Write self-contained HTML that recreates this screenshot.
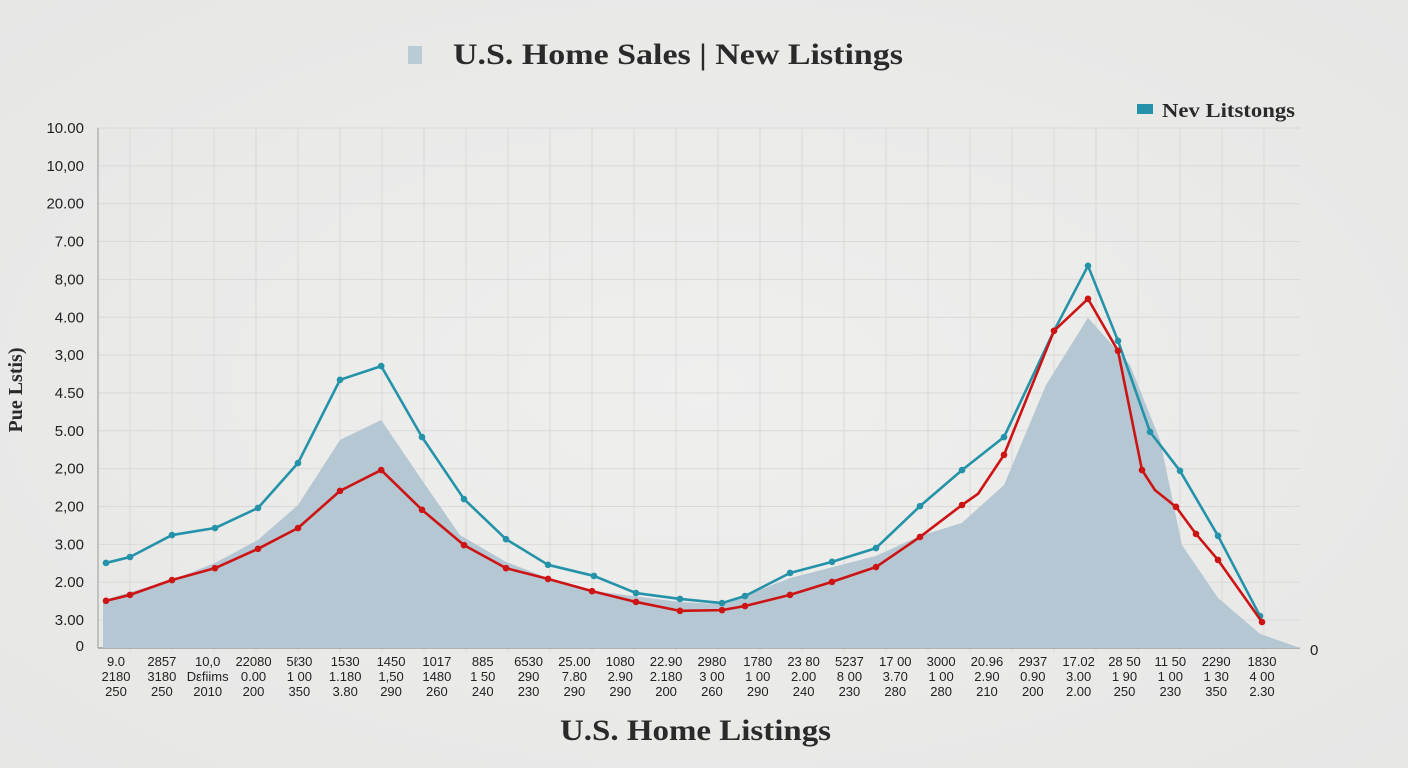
<!DOCTYPE html>
<html><head><meta charset="utf-8"><style>
html,body{margin:0;padding:0;background:#ebebea;}
svg{display:block}
.t{font-family:"Liberation Serif",serif;font-weight:bold;fill:#2a2a2a}
.tick{font-family:"Liberation Sans",sans-serif;font-size:15px;fill:#222}
.xl{font-family:"Liberation Sans",sans-serif;font-size:13px;fill:#222}
</style></head><body>
<svg id="chart" width="1408" height="768">
<defs><radialGradient id="bg" cx="50%" cy="50%" r="70%"><stop offset="0" stop-color="#efefee"/><stop offset="1" stop-color="#e6e6e5"/></radialGradient></defs>
<rect width="1408" height="768" fill="url(#bg)"/>
<rect x="408" y="46" width="14" height="18" fill="#b9ccd6"/>
<text class="t" x="453" y="64" font-size="30" textLength="450" lengthAdjust="spacingAndGlyphs">U.S. Home Sales | New Listings</text>
<g>
<rect x="1137" y="104" width="16" height="10" fill="#2492a8"/>
<text class="t" x="1162" y="117" font-size="20" textLength="133" lengthAdjust="spacingAndGlyphs">Nev Litstongs</text>
</g>
<text class="t" transform="translate(22,390) rotate(-90)" text-anchor="middle" font-size="20">Pue Lstis)</text>
<text class="t" x="560" y="740" font-size="30" textLength="271" lengthAdjust="spacingAndGlyphs">U.S. Home Listings</text>
<text class="tick" x="1310" y="655">0</text>
<g id="grid"></g><g id="area"></g><g id="lines"></g><g id="yt"></g><g id="xt"></g>
</svg>
<script>
const yTickLabels=["10.00","10,00","20.00","7.00","8,00","4.00","3,00","4.50","5.00","2,00","2,00","3.00","2.00","3.00"];
const xLabelTop=["9.0","2857","10,0","22080","5ℓ30","1530","1450","1017","885","6530","25.00","1080","22.90","2980","1780","23 80","5237","17 00","3000","20.96","2937","17.02","28 50","11 50","2290","1830"];
const xLabelMid=["2180","3180","Dεfiims","0.00","1 00","1.180","1,50","1480","1 50","290","7.80","2.90","2.180","3 00","1 00","2.00","8 00","3.70","1 00","2.90","0.90","3.00","1 90","1 00","1 30","4 00"];
const xLabelBot=["250","250","2010","200","350","3.80","290","260","240","230","290","290","200","260","290","240","230","280","280","210","200","2.00","250","230","350","2.30"];
const tealWeeks=[0.15,0.75,1.8,2.875,3.95,4.95,6.0,7.03,8.05,9.1,10.15,11.2,12.35,13.4,14.5,15.55,16.125,17.25,18.3,19.4,20.5,21.55,22.6,23.85,24.7,25.45,26.25,27.0,27.95,29.0];
const tealValues=[2.29,2.45,3.04,3.23,3.77,4.98,7.22,7.59,5.68,4.01,2.93,2.24,1.94,1.48,1.32,1.21,1.40,2.02,2.32,2.69,3.82,4.79,5.68,8.54,10.29,8.27,5.82,4.77,3.02,0.86];
const redWeeks=[0.15,0.75,1.8,2.875,3.95,4.95,6.0,7.03,8.05,9.1,10.15,11.2,12.3,13.4,14.5,15.55,16.125,17.25,18.3,19.4,20.5,21.55,21.95,22.6,23.85,24.7,25.45,26.05,26.375,26.9,27.4,27.95,29.05];
const redValues=[1.27,1.43,1.83,2.15,2.67,3.23,4.23,4.79,3.72,2.77,2.15,1.86,1.53,1.24,1.0,1.02,1.13,1.43,1.78,2.18,2.99,3.85,4.15,5.2,8.54,9.4,8.0,4.79,4.25,3.8,3.07,2.37,0.7];
const redDotIdx=[0,1,2,3,4,5,6,7,8,9,10,11,12,13,14,15,16,17,18,19,20,21,23,24,25,26,27,29,30,31,32];
const areaWeeks=[0.075,1.8,2.875,3.95,4.95,6.0,7.03,8.05,9.0,10.15,11.2,12.5,14.5,15.55,17.25,19.4,20.5,21.55,22.6,23.65,24.7,25.75,26.5,27.05,27.95,29.0,30];
const areaValues=[1.29,1.83,2.29,2.91,3.85,5.6,6.14,4.52,3.04,2.32,1.88,1.51,1.24,1.18,1.88,2.48,3.02,3.37,4.39,7.08,8.89,7.62,5.6,2.77,1.35,0.38,0];
const NS="http://www.w3.org/2000/svg";
const X0=100,X1=1300,Y0=648,Y1=128;
const xs=w=>X0+(w/30)*(X1-X0);
const ys=v=>Y0-(v/14)*(Y0-Y1);
function mk(tag,attrs,parent){const e=document.createElementNS(NS,tag);for(const k in attrs)e.setAttribute(k,attrs[k]);parent.appendChild(e);return e;}
const grid=document.getElementById('grid');
for(let i=0;i<yTickLabels.length;i++){
 const y=Y1+i*37.85;
 const l=mk('line',{x1:98,x2:1300,y1:y,y2:y,stroke:'#d9d9d8','stroke-width':1},grid);
 
 
 const t=mk('text',{x:84,y:y+5,'text-anchor':'end',class:'tick'},document.getElementById('yt'));
 t.textContent=yTickLabels[i];
 
 
}
const z=mk('text',{x:84,y:651,'text-anchor':'end',class:'tick'},document.getElementById('yt'));
z.textContent='0';


for(let i=0;i<28;i++){
 const x=130+i*42;
 const l=mk('line',{x1:x,x2:x,y1:128,y2:652,stroke:'#d9d9d8','stroke-width':1},grid);
 
 
}
const ax=mk('line',{x1:98,x2:1300,y1:648,y2:648,stroke:'#777','stroke-width':1},grid);


const ay=mk('line',{x1:98,x2:98,y1:128,y2:648,stroke:'#999','stroke-width':1},grid);


let d='M'+xs(areaWeeks[0])+','+Y0;
areaWeeks.forEach((w,i)=>{d+=' L'+xs(w)+','+ys(areaValues[i]);});
d+=' L'+xs(areaWeeks[areaWeeks.length-1])+','+Y0+' Z';
const ar=mk('path',{d:d,fill:'#b5c7d3'},document.getElementById('area'));


function series(weeks,vals,color,name,dots){
 const g=document.getElementById('lines');
 const p=mk('polyline',{points:weeks.map((w,i)=>xs(w)+','+ys(vals[i])).join(' '),fill:'none',stroke:color,'stroke-width':2.6,'stroke-linejoin':'round'},g);
 
 
 dots.forEach(i=>{
  const c=mk('circle',{cx:xs(weeks[i]),cy:ys(vals[i]),r:3.3,fill:color},g);
  
  
 });
}
series(tealWeeks,tealValues,'#2492a8','new-listings',tealWeeks.map((_,i)=>i));
series(redWeeks,redValues,'#cc1414','home-sales',redDotIdx);
const xt=document.getElementById('xt');
for(let i=0;i<xLabelTop.length;i++){
 const x=116+i*(1262-116)/25;
 [[xLabelTop,666],[xLabelMid,681],[xLabelBot,696]].forEach(([arr,y])=>{
  const t=mk('text',{x:x,y:y,'text-anchor':'middle',class:'xl'},xt);
  t.textContent=arr[i];
  
  
 });
}
</script>
</body></html>
